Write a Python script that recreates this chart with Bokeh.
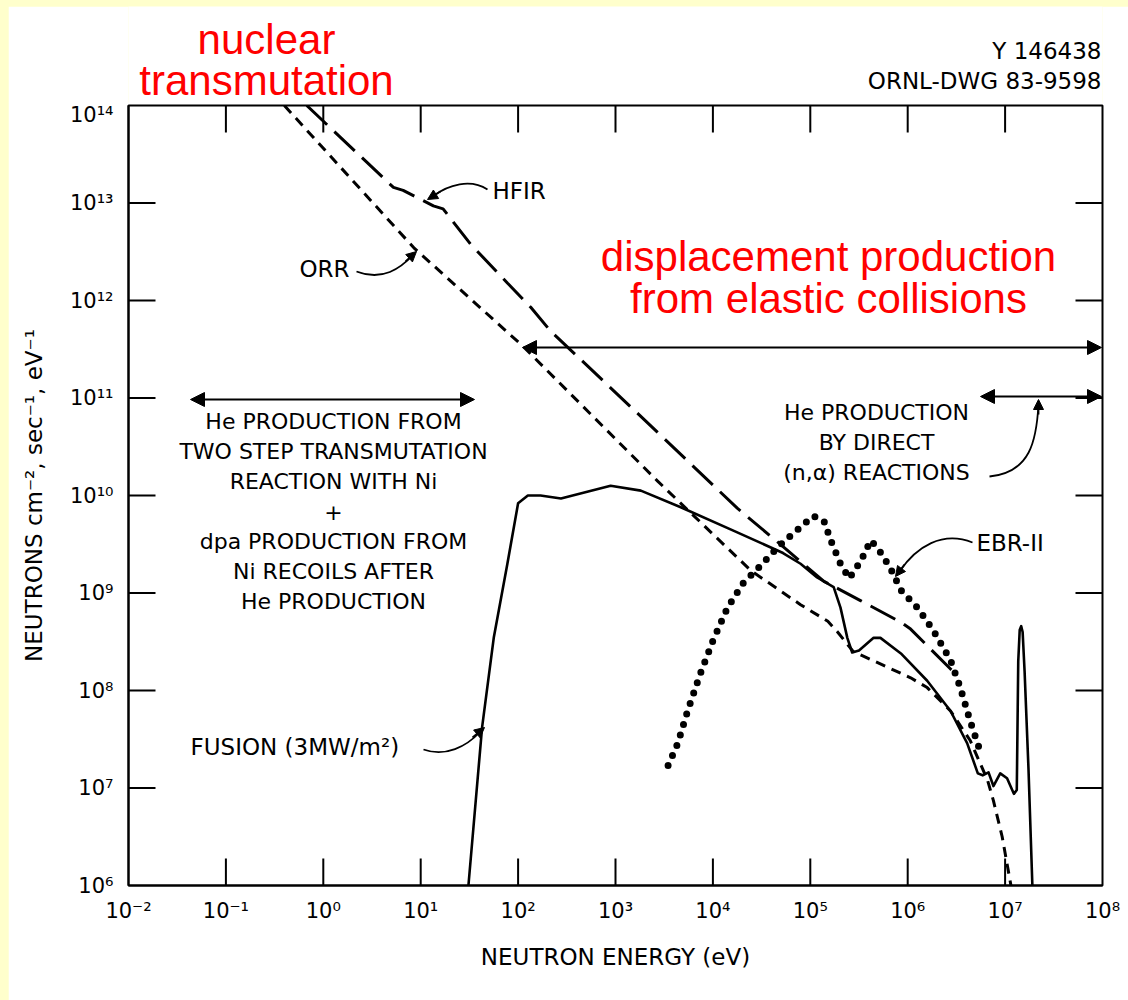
import numpy as np
from bokeh.plotting import figure
from bokeh.models import (Range1d, FixedTicker, CustomJSTickFormatter,
                          Label, Arrow, NormalHead, LinearScale)
from bokeh.layouts import column
from bokeh.embed import file_html
from bokeh.resources import INLINE

# ---------------- data ----------------
x_ticks = [1e-2, 1e-1, 1e0, 1e1, 1e2, 1e3, 1e4, 1e5, 1e6, 1e7, 1e8]
x_tick_labels = ["10⁻²", "10⁻¹", "10⁰", "10¹", "10²", "10³", "10⁴",
                 "10⁵", "10⁶", "10⁷", "10⁸"]
y_ticks = [1e6, 1e7, 1e8, 1e9, 1e10, 1e11, 1e12, 1e13, 1e14]
y_tick_labels = ["10⁶", "10⁷", "10⁸", "10⁹", "10¹⁰", "10¹¹", "10¹²",
                 "10¹³", "10¹⁴"]

# ORR (short dashes) : log10(E / eV), log10(flux)
orr_log_e = [-0.40, 0.93, 2.04, 3.00, 3.43, 4.39, 4.90, 5.18, 5.28, 5.44,
             5.55, 6.03, 6.20, 6.44, 6.64, 6.82, 6.88, 6.97, 7.06]
orr_log_flux = [14.0, 12.54, 11.54, 10.58, 10.15, 9.23, 8.88, 8.71, 8.60, 8.40,
                8.35, 8.13, 8.03, 7.79, 7.49, 7.08, 6.87, 6.50, 6.0]

# HFIR (long dashes)
hfir_log_e = [-0.17, 0.72, 0.82, 1.13, 1.23, 1.51, 1.89, 2.13, 2.33, 3.43,
              4.25, 4.62, 5.14, 5.52, 5.93, 6.03, 6.44, 6.50]
hfir_log_flux = [14.0, 13.16, 13.13, 12.97, 12.94, 12.58, 12.18, 11.93, 11.69, 10.65,
                 9.87, 9.56, 9.12, 8.92, 8.70, 8.63, 8.22, 8.16]

# Fusion (3 MW/m2) (solid)
fus_log_e = [1.49, 1.63, 1.75, 1.89, 2.00, 2.10, 2.23, 2.44, 2.64, 2.95,
             3.26, 3.67, 4.21, 4.72, 4.90, 5.07, 5.24, 5.31, 5.38, 5.43,
             5.50, 5.65, 5.72, 5.93, 6.20, 6.44, 6.61, 6.72, 6.77, 6.83,
             6.88, 6.95, 7.02, 7.09, 7.12, 7.135, 7.15, 7.165, 7.18, 7.20,
             7.24, 7.28]
fus_log_flux = [6.0, 7.62, 8.54, 9.30, 9.92, 10.0, 10.0, 9.97, 10.02, 10.10,
                10.05, 9.88, 9.64, 9.41, 9.30, 9.16, 9.06, 8.85, 8.54, 8.39,
                8.41, 8.54, 8.54, 8.38, 8.10, 7.79, 7.46, 7.15, 7.13, 7.16,
                7.02, 7.15, 7.10, 6.94, 6.98, 8.30, 8.62, 8.66, 8.60, 8.20,
                7.20, 6.0]

# EBR-II (dotted)
ebr_log_e = [3.54, 3.64, 3.74, 3.87, 4.00, 4.15, 4.31, 4.49, 4.62, 4.72,
             4.87, 5.03, 5.14, 5.21, 5.31, 5.40, 5.52, 5.62, 5.70, 5.82,
             5.93, 6.10, 6.26, 6.44, 6.54, 6.64, 6.73]
ebr_log_flux = [7.23, 7.46, 7.79, 8.17, 8.51, 8.85, 9.10, 9.28, 9.42, 9.52,
                9.65, 9.79, 9.74, 9.54, 9.30, 9.15, 9.33, 9.54, 9.45, 9.26,
                9.03, 8.85, 8.62, 8.31, 8.03, 7.69, 7.42]

FONT = "DejaVu Sans"
RED = "#FF0000"


def lx(px):
    """reference-picture x pixel -> energy (annotation placement)"""
    return 10 ** ((px - 128) / 97.4 - 2)


def ly(py):
    """reference-picture y pixel -> flux (annotation placement)"""
    return 10 ** (14 - (py - 105) / 97.5)


# ---------------- header strip (texts above the frame) ----------------
# its frame is aligned with the main frame by the column layout (x 128..1102)
HDR_H = 97
hdr = figure(width=1120, height=HDR_H, x_range=Range1d(128, 1102), y_range=Range1d(HDR_H, 0),
             output_backend="svg", toolbar_location=None,
             x_axis_location=None, y_axis_location=None,
             min_border=0, margin=(6, 0, 0, 8))
hdr.grid.visible = False
hdr.outline_line_color = None
hdr.background_fill_color = "white"
hdr.border_fill_color = "white"


def hlabel(text, px, py, size, align="center", color="black", font=FONT):
    hdr.add_layout(Label(x=px, y=py - 6, text=text, text_font=font,
                         text_font_size=f"{size}px", text_align=align,
                         text_baseline="middle", text_color=color))


hlabel("nuclear", 266, 39, 42, color=RED, font="Liberation Sans")
hlabel("transmutation", 266, 80, 42, color=RED, font="Liberation Sans")
hlabel("Y 146438", 1101, 50, 23, align="right")
hlabel("ORNL-DWG 83-9598", 1101, 80, 23, align="right")

# ---------------- main chart ----------------
p = figure(width=1120, height=898, x_axis_type="log", y_axis_type="log",
           x_range=Range1d(1e-2, 1e8), y_range=Range1d(1e6, 1e14),
           output_backend="svg", toolbar_location=None,
           min_border_left=120, min_border_right=26, min_border_top=3,
           min_border_bottom=115, margin=(-1, 0, 0, 8))
p.xgrid.visible = False
p.ygrid.visible = False
p.background_fill_color = "white"
p.border_fill_color = "white"
p.outline_line_color = "black"
p.outline_line_width = 2

# decade-index ranges with linear scales (same frame), used for the tick marks
p.extra_x_ranges["dec"] = Range1d(-2, 8)
p.extra_x_scales["dec"] = LinearScale()
p.extra_y_ranges["dec"] = Range1d(6, 14)
p.extra_y_scales["dec"] = LinearScale()

fmt_code = """
const i = vals.findIndex(v => Math.abs(Math.log10(v) - Math.log10(tick)) < 1e-6);
return i >= 0 ? labels[i] : "";
"""
p.xaxis.ticker = FixedTicker(ticks=x_ticks)
p.yaxis.ticker = FixedTicker(ticks=y_ticks)
p.xaxis.formatter = CustomJSTickFormatter(args=dict(vals=x_ticks, labels=x_tick_labels), code=fmt_code)
p.yaxis.formatter = CustomJSTickFormatter(args=dict(vals=y_ticks, labels=y_tick_labels), code=fmt_code)

for ax in (p.xaxis[0], p.yaxis[0]):
    ax.major_tick_in = 0
    ax.major_tick_out = 0
    ax.minor_tick_line_color = None
    ax.axis_line_width = 2
    ax.major_label_text_font = FONT
    ax.major_label_text_font_size = "21px"
    ax.major_label_text_color = "black"
    ax.axis_label_text_font = FONT
    ax.axis_label_text_font_size = "23px"
    ax.axis_label_text_font_style = "normal"
    ax.axis_label_text_color = "black"

p.xaxis.axis_label = "NEUTRON ENERGY (eV)"
p.yaxis.axis_label = "NEUTRONS cm⁻², sec⁻¹, eV⁻¹"
p.xaxis.major_label_standoff = 13
p.yaxis.major_label_standoff = 15
p.xaxis.axis_label_standoff = 18
p.yaxis.axis_label_standoff = 20

# inward tick marks on all four sides, 27 px long, 2 px wide
TL = 27 / 97.4               # tick length in decades
HW = 1 / 97.4                # half tick width in decades
xd = np.log10(np.array(x_ticks[1:-1]))     # decade index of inner x ticks
yd = np.log10(np.array(y_ticks[1:-1]))     # decade index of inner y ticks
nx, ny = len(xd), len(yd)
tick_kw = dict(fill_color="black", line_color=None,
               x_range_name="dec", y_range_name="dec")
p.quad(left=xd - HW, right=xd + HW, bottom=np.full(nx, 6.0), top=np.full(nx, 6.0 + TL), **tick_kw)
p.quad(left=xd - HW, right=xd + HW, bottom=np.full(nx, 14.0 - TL), top=np.full(nx, 14.0), **tick_kw)
p.quad(left=np.full(ny, -2.0), right=np.full(ny, -2.0 + TL), bottom=yd - HW, top=yd + HW, **tick_kw)
p.quad(left=np.full(ny, 8.0 - TL), right=np.full(ny, 8.0), bottom=yd - HW, top=yd + HW, **tick_kw)

# ---------------- curves ----------------
p.line(10 ** np.array(orr_log_e), 10 ** np.array(orr_log_flux),
       line_color="black", line_width=3, line_dash="10 7")
p.line(10 ** np.array(hfir_log_e), 10 ** np.array(hfir_log_flux),
       line_color="black", line_width=3, line_dash="28 10")
p.line(10 ** np.array(fus_log_e), 10 ** np.array(fus_log_flux),
       line_color="black", line_width=2.6, line_join="round")
p.line(10 ** np.array(ebr_log_e), 10 ** np.array(ebr_log_flux),
       line_color="black", line_width=7, line_dash="0 11", line_cap="round")


# ---------------- annotations ----------------
def label(text, px, py, size, align="center", color="black", font=FONT):
    p.add_layout(Label(x=lx(px), y=ly(py), text=text, text_font=font,
                       text_font_size=f"{size}px", text_align=align,
                       text_baseline="middle", text_color=color))


label("displacement production", 828, 256, 42, color=RED, font="Liberation Sans")
label("from elastic collisions", 828, 298, 42, color=RED, font="Liberation Sans")

label("HFIR", 492, 190, 23, align="left")
label("ORR", 299, 268, 23, align="left")
label("FUSION (3MW/m²)", 190, 746, 23, align="left")
label("EBR-II", 976, 542, 23, align="left")

left_lines = ["He PRODUCTION FROM", "TWO STEP TRANSMUTATION", "REACTION WITH Ni", "+",
              "dpa PRODUCTION FROM", "Ni RECOILS AFTER", "He PRODUCTION"]
for t, yy in zip(left_lines, [421, 451, 481, 511, 541, 571, 601]):
    label(t, 333, yy, 22)

right_lines = ["He PRODUCTION", "BY DIRECT", "(n,α) REACTIONS"]
for t, yy in zip(right_lines, [412, 442, 472]):
    label(t, 876, yy, 22)

# double arrows
for (xa, xb, yy) in [(190, 474, 399), (522, 1101, 347), (980, 1101, 396)]:
    p.add_layout(Arrow(x_start=lx(xa), y_start=ly(yy), x_end=lx(xb), y_end=ly(yy),
                       start=NormalHead(size=14, fill_color="black", line_color="black"),
                       end=NormalHead(size=14, fill_color="black", line_color="black"),
                       line_width=2, line_color="black"))

# curved leaders
leaders = [
    # start, control0, control1, end
    ((487, 189), (470, 178), (448, 184), (432, 196)),    # HFIR
    ((356, 271), (382, 281), (400, 268), (413, 254)),    # ORR
    ((423, 749), (445, 757), (466, 746), (480, 731)),    # FUSION
    ((972, 542), (942, 530), (916, 546), (899, 571)),    # EBR-II
    ((989, 476), (1030, 472), (1036, 440), (1038, 404)), # (n,a)
]
for (s, c0, c1, e) in leaders:
    p.bezier(x0=[lx(s[0])], y0=[ly(s[1])], x1=[lx(e[0])], y1=[ly(e[1])],
             cx0=[lx(c0[0])], cy0=[ly(c0[1])], cx1=[lx(c1[0])], cy1=[ly(c1[1])],
             line_color="black", line_width=1.8)
heads = [((440, 191), (427, 199)), ((405, 261), (416, 251)), ((472, 737), (484, 727)),
         ((904, 564), (895, 576)), ((1038, 414), (1038, 399))]
for (a, b) in heads:
    p.add_layout(Arrow(x_start=lx(a[0]), y_start=ly(a[1]), x_end=lx(b[0]), y_end=ly(b[1]),
                       start=None,
                       end=NormalHead(size=10, fill_color="black", line_color="black"),
                       line_width=1.8, line_color="black"))

page = column(hdr, p, styles={"background-color": "#FFFFCC"}, margin=0, spacing=0)
open("out.html", "w").write(file_html(page, INLINE))
